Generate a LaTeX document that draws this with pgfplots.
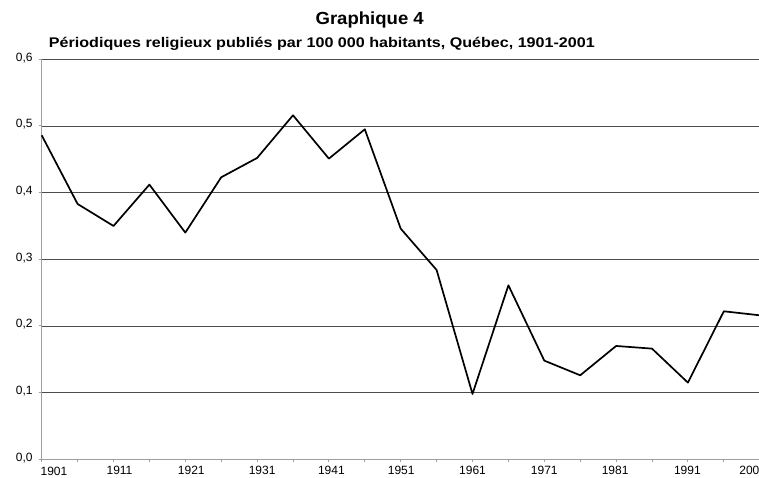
\documentclass[border=0pt]{standalone}
\usepackage{fontspec}
\setmainfont{Liberation Sans}
\usepackage{pgfplots}
\pgfplotsset{compat=1.18}
\usetikzlibrary{calc}
% shift a tick label sideways by #1
\newcommand{\sh}[2]{\makebox[0pt]{\hspace*{#1}\hspace*{#1}#2}}

\begin{document}
\begin{tikzpicture}
\begin{axis}[
  scale only axis, width=718pt, height=400pt,
  xmin=1901, xmax=2001, ymin=0, ymax=0.6,
  axis x line=bottom, axis y line=left,
  axis line style={draw=black!38, line width=1.5pt, -},
  xtick={1901,1911,1921,1931,1941,1951,1961,1971,1981,1991,2001},
  minor xtick={1906,1916,1926,1936,1946,1956,1966,1976,1986,1996},
  xticklabels={\raisebox{-1.5pt}[\height][\depth]{\sh{12.3pt}{1901}},\sh{6pt}{1911},\sh{6pt}{1921},\sh{5pt}{1931},\sh{2.5pt}{1941},\sh{0.5pt}{1951},1961,1971,\sh{-1pt}{1981},\sh{-0.5pt}{1991},\sh{-7pt}{2001}},
  ytick={0,0.1,0.2,0.3,0.4,0.5,0.6},
  ymajorgrids, major grid style={black!70, line width=0.7pt},
  tick style={draw=black!38, line width=1pt},
  tick align=outside, major tick length=3pt, minor tick length=3pt,
  ticklabel style={font=\fontsize{12}{13}\selectfont},
  /pgf/number format/assume math mode=true,
  yticklabel style={xshift=-2.5pt, yshift=1.5pt, /pgf/number format/.cd, fixed, fixed zerofill, precision=1, use comma},
  xticklabel style={yshift=-2pt, inner sep=1pt, text height=8.6pt, text depth=0pt, /pgf/number format/set thousands separator={}},
  clip=false,
]
\addplot[black, line width=1.7pt, line join=round] coordinates {
  (1901,0.486) (1906,0.383) (1911,0.350) (1916,0.412) (1921,0.340)
  (1926,0.423) (1931,0.452) (1936,0.516) (1941,0.451) (1946,0.495)
  (1951,0.346) (1956,0.284) (1961,0.098) (1966,0.261) (1971,0.148)
  (1976,0.126) (1981,0.170) (1986,0.166) (1991,0.115) (1996,0.222)
  (2001,0.216)};
\coordinate (bl) at (rel axis cs:0,0);
\coordinate (tr) at (rel axis cs:1,1);
\end{axis}
\node[anchor=base, inner sep=0pt, xscale=1.06, transform shape, font=\fontsize{17.5}{19}\selectfont\bfseries] at ($(bl)+(328pt,434.3pt)$) {Graphique 4};
\node[anchor=base west, inner sep=0pt, xscale=1.15, transform shape, font=\fontsize{14}{16}\selectfont\bfseries] at ($(bl)+(7pt,411.6pt)$) {Périodiques religieux publiés par 100 000 habitants, Québec, 1901-2001};
\pgfresetboundingbox
\path[use as bounding box] ($(bl)+(-41.7pt,-18.7pt)$) rectangle ($(tr)+(-0.7pt,59.3pt)$);
\end{tikzpicture}
\end{document}
